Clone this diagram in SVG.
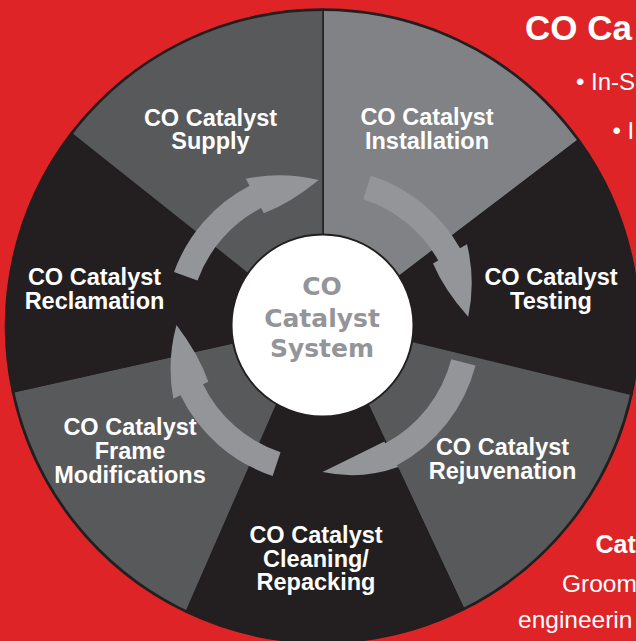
<svg xmlns="http://www.w3.org/2000/svg" width="636" height="641" viewBox="0 0 636 641">
<style>
.seg{stroke:#231f20;stroke-width:1.5;stroke-linejoin:round}
.dk{fill:#58595b}.lt{fill:#808285}.bk{fill:#231f20}
.arrow{fill:#939598}
.lbl{font-family:"Liberation Sans",Arial,Helvetica,sans-serif;font-weight:bold;font-size:23.5px;fill:#fff;text-anchor:middle}
.ctr{font-family:"DejaVu Sans","Liberation Sans",sans-serif;font-weight:bold;font-size:25px;fill:#939598;text-anchor:middle}
.hd{font-family:"Liberation Sans",Arial,sans-serif;font-weight:bold;fill:#fff}
.bd{font-family:"Liberation Sans",Arial,sans-serif;fill:#fff}
</style>
<rect width="636" height="641" fill="#de2427"/>
<g id="installation">
<path class="seg lt" d="M322.5 326 L323 235 L323 9 A317 317 0 0 1 578.96 139.67 L397 278 Z"/>
<text class="lbl" x="427" y="125">CO Catalyst</text>
<text class="lbl" x="427" y="148.5">Installation</text>
</g>
<g id="testing">
<path class="seg bk" d="M322.5 326 L397 278 L578.96 139.67 A317 317 0 0 1 631.99 394.61 L411 341 Z"/>
<text class="lbl" x="551" y="285">CO Catalyst</text>
<text class="lbl" x="551" y="308.5">Testing</text>
</g>
<g id="rejuvenation">
<path class="seg dk" d="M322.5 326 L411 341 L631.99 394.61 A317 317 0 0 1 463.95 609.69 L367.6 403.8 Z"/>
<text class="lbl" x="502.5" y="455">CO Catalyst</text>
<text class="lbl" x="502.5" y="478.5">Rejuvenation</text>
</g>
<g id="cleaning">
<path class="seg bk" d="M322.5 326 L367.6 403.8 L463.95 609.69 A317 317 0 0 1 186.03 612.12 L277 403.7 Z"/>
<text class="lbl" x="316" y="543">CO Catalyst</text>
<text class="lbl" x="316" y="566.5">Cleaning/</text>
<text class="lbl" x="316" y="590">Repacking</text>
</g>
<g id="frame">
<path class="seg dk" d="M322.5 326 L277 403.7 L186.03 612.12 A317 317 0 0 1 12.43 391.91 L234 342.4 Z"/>
<text class="lbl" x="130" y="434.5">CO Catalyst</text>
<text class="lbl" x="130" y="458.5">Frame</text>
<text class="lbl" x="130" y="482.5">Modifications</text>
</g>
<g id="reclamation">
<path class="seg bk" d="M322.5 326 L234 342.4 L12.43 391.91 A317 317 0 0 1 71.01 133.02 L249.6 275 Z"/>
<text class="lbl" x="94.5" y="285">CO Catalyst</text>
<text class="lbl" x="94.5" y="308.5">Reclamation</text>
</g>
<g id="supply">
<path class="seg dk" d="M322.5 326 L249.6 275 L71.01 133.02 A317 317 0 0 1 323 9 L323 235 Z"/>
<text class="lbl" x="210.5" y="125.5">CO Catalyst</text>
<text class="lbl" x="210.5" y="149">Supply</text>
</g>
<circle cx="322.5" cy="326" r="316" fill="none" stroke="#231f20" stroke-width="2"/>
<g id="connectors">
<path class="arrow" d="M174.03 271.96 A158 158 0 0 1 249.54 185.85 L245.85 178.76 Q282.44 171.10 318.68 180.05 Q290.70 203.05 263.86 213.35 L261.09 208.03 A133 133 0 0 0 197.52 280.51 Z"/>
<path class="arrow" d="M370.80 175.56 A158 158 0 0 1 460.02 248.20 L466.98 244.26 Q475.87 280.42 468.21 316.83 Q444.24 289.82 433.04 263.46 L438.26 260.51 A133 133 0 0 0 363.16 199.37 Z"/>
<path class="arrow" d="M475.47 365.56 A158 158 0 0 1 397.16 465.25 L398.11 467.01 Q361.24 480.21 322.5 472 Q355.14 455.96 384.40 441.45 L385.35 443.21 A133 133 0 0 0 451.26 359.30 Z"/>
<path class="arrow" d="M272.63 475.92 A158 158 0 0 1 180.49 395.26 L173.30 398.77 Q166.48 361.45 176.5 324.98 Q198.66 354.14 208.35 381.67 L202.96 384.30 A133 133 0 0 0 280.52 452.20 Z"/>
</g>
<g id="center">
<circle cx="322.5" cy="325.5" r="91" fill="#fff" stroke="#231f20" stroke-width="2"/>
<text class="ctr" x="322" y="295">CO</text>
<text class="ctr" x="322" y="326.5">Catalyst</text>
<text class="ctr" x="322" y="356.5">System</text>
</g>
<g id="side-text">
<text class="hd" x="525" y="40" font-size="35">CO Ca</text>
<text class="bd" x="576" y="90" font-size="24">• In-S</text>
<text class="bd" x="612.5" y="139" font-size="24">• I</text>
<text class="hd" x="595.5" y="553" font-size="25">Cat</text>
<text class="bd" x="562" y="592" font-size="24.5">Groom</text>
<text class="bd" x="518" y="628" font-size="24.5">engineerin</text>
</g>
</svg>
